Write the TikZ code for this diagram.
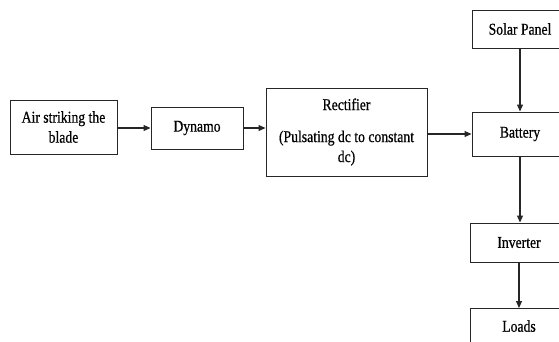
\documentclass[tikz,border=0pt]{standalone}
\usepackage{fontspec}
\setmainfont{Liberation Serif}[FakeStretch=0.83,FakeBold=0.6]
\usetikzlibrary{arrows.meta}
\begin{document}
\begin{tikzpicture}[x=1pt,y=-1pt,
  box/.style={draw=black!85,line width=1pt,inner sep=0pt,align=center,
    font=\fontsize{16.5}{20}\selectfont},
  arr/.style={draw=black!85,line width=1.1pt,-{Triangle[length=7pt,width=6pt]}}]
\useasboundingbox (0,0) rectangle (559,341);
\clip (0,0) rectangle (559,341);
\node[box,minimum width=107pt,minimum height=54pt] (air) at (63.5,127) {Air striking the\\blade};
\node[box,minimum width=92pt,minimum height=42pt] (dyn) at (197,128) {\raisebox{3pt}{Dynamo}};
\node[box,minimum width=161pt,minimum height=88pt] (rect) at (346.5,132) {Rectifier\\[12pt](Pulsating dc to constant\\dc)};
\node[box,minimum width=96pt,minimum height=38pt] (solar) at (520,29) {Solar Panel};
\node[box,minimum width=96pt,minimum height=44pt] (bat) at (520,134) {Battery};
\node[box,minimum width=98pt,minimum height=39pt] (inv) at (519,242.5) {Inverter};
\node[box,minimum width=98pt,minimum height=39pt] (loads) at (519,328) {\raisebox{4pt}{Loads}};
\draw[arr] (air.east |- 0,128) -- (dyn.west |- 0,128);
\draw[arr] (dyn.east) -- (rect.west |- dyn.east);
\draw[arr] (rect.east |- bat.west) -- (bat.west);
\draw[arr] (solar.south) -- (bat.north);
\draw[arr] (bat.south) -- (bat.south |- inv.north);
\draw[arr] (inv.south) -- (loads.north);
\end{tikzpicture}
\end{document}
